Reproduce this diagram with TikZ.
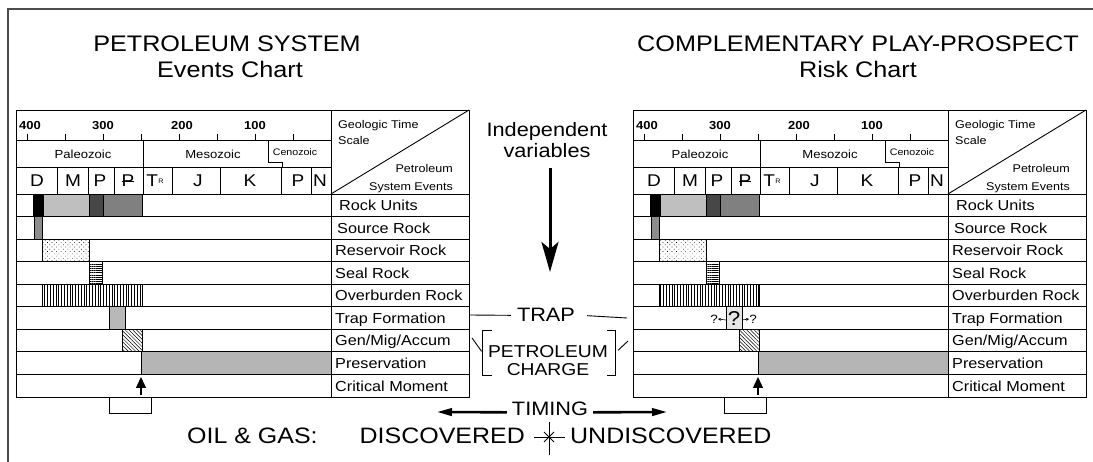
\documentclass[tikz,border=0pt]{standalone}
\usepackage{fontspec}
\setmainfont[FakeStretch=1.12]{Liberation Sans}
\usetikzlibrary{arrows.meta,patterns.meta}

\newcommand\fsz[1]{\fontsize{#1}{#1}\selectfont}
% Permian: P with a bar through it
\newcommand\permP{\ooalign{P\cr\hidewidth\rule[0.3em]{0.66em}{0.065em}\hidewidth\cr}}
% Triassic: T with a small R beside the stem
\newcommand\triasT{T\kern0.02em\raisebox{0.22em}{\fsz{6.5}R}}

\tikzset{
  grid/.style={line width=0.9pt},
  bar/.style={draw=black, line width=0.8pt},
  lbl/.style={anchor=base west, inner sep=0pt, font=\fsz{14.5}},
  eralbl/.style={anchor=base, inner sep=0pt, font=\fsz{11.7}},
  perlbl/.style={anchor=base, inner sep=0pt, font=\fsz{17}},
  numlbl/.style={anchor=base, inner sep=0pt, font=\bfseries\fsz{11.6}},
  hdrlbl/.style={inner sep=0pt, font=\fsz{11.2}},
  titlelbl/.style={anchor=base, inner sep=0pt, font=\fsz{22.5}},
  midlbl/.style={anchor=base, inner sep=0pt, font=\fsz{19.4}},
  botlbl/.style={inner sep=0pt, font=\fsz{22.3}},
  critarrow/.style={line width=1.4pt, -{Triangle[length=11pt,width=10pt]}},
  timearrow/.style={line width=2.6pt, -{Triangle[length=15pt,width=7.5pt]}},
  thinlink/.style={line width=0.9pt},
}

\begin{document}
\begin{tikzpicture}[x=1pt,y=-1pt]
\useasboundingbox (0,0) rectangle (1093,462);

% outer frame (left and top edges)
\draw[line width=1.6pt, black!70] (8,462) -- (8,9) -- (1093,9);

% titles
\node[titlelbl] (titleL1) at (227,52) {PETROLEUM SYSTEM};
\node[titlelbl] (titleL2) at (230,78) {Events Chart};
\node[titlelbl] (titleR1) at (858,52) {COMPLEMENTARY PLAY-PROSPECT};
\node[titlelbl] (titleR2) at (858,78) {Risk Chart};

% the two charts share one layout
\foreach \side/\dx/\bl in {L/0/109,R/617/107}{
\begin{scope}[xshift=\dx pt, name prefix=\side-]
  % rock units
  \filldraw[bar, fill=black] (33,194) rectangle (43,216.6);
  \filldraw[bar, fill=black!25] (43,194) rectangle (89,216.6);
  \filldraw[bar, fill=black!72] (89,194) rectangle (103,216.6);
  \filldraw[bar, fill=black!50] (103,194) rectangle (142,216.6);
  % source rock
  \filldraw[bar, fill=black!45] (34,216.6) rectangle (42,239.1);
  % reservoir rock
  \draw[bar, pattern={Dots[distance=3.2pt,angle=45,radius=0.45pt]}] (42,239.1) rectangle (89,261.7);
  % seal rock
  \draw[bar, pattern={Lines[distance=2.2pt,line width=0.6pt]}] (89,261.7) rectangle (102,284.2);
  % overburden rock
  \draw[bar, pattern={Lines[angle=90,distance=2.8pt,line width=0.7pt]}] (42,284.2) rectangle (142,306.8);
  % generation / migration / accumulation
  \draw[bar, pattern={Lines[angle=-45,distance=2.6pt,line width=0.5pt]}] (122,329.3) rectangle (142,351.9);
  % preservation
  \filldraw[bar, fill=black!29] (141,351.9) rectangle (331,374.4);

  % frame and grid
  \draw[grid] (16,110) rectangle (469,397);
  \draw[grid] (331,110) -- (331,397);
  \draw[grid] (16,140) -- (331,140);
  \draw[grid] (16,167) -- (331,167);
  \foreach \y in {194,216.6,239.1,261.7,284.2,306.8,329.3,351.9,374.4}
    \draw[grid] (16,\y) -- (469,\y);
  \draw[grid] (331,194) -- (469,110);

  % time scale
  \foreach \k in {0,...,7}
    \draw[grid] ({27+38*\k},134) -- ({27+38*\k},140);
  \node[numlbl] (n400) at (30,130) {400};
  \node[numlbl] (n300) at (103,130) {300};
  \node[numlbl] (n200) at (182,130) {200};
  \node[numlbl] (n100) at (255,130) {100};

  % eras
  \draw[grid] (143,140) -- (143,167);
  \draw[grid] (268,140) -- (268,162) -- (282,162) -- (282,167);
  \node[eralbl] (paleo) at (83,159) {Paleozoic};
  \node[eralbl] (meso) at (213,159) {Mesozoic};
  \node[eralbl, font=\fsz{9.5}] (ceno) at (295,156) {Cenozoic};

  % periods
  \foreach \x in {57,88,114,143,172,220,281,311}
    \draw[grid] (\x,167) -- (\x,194);
  \node[perlbl] (pD) at (37,187) {D};
  \node[perlbl] (pM) at (73,187) {M};
  \node[perlbl] (pP) at (100,187) {P};
  \node[perlbl] (pPP) at (128,187) {\permP};
  \node[perlbl] (pTr) at (155,187) {\triasT};
  \node[perlbl] (pJ) at (198,187) {J};
  \node[perlbl] (pK) at (250,187) {K};
  \node[perlbl] (pPg) at (298,187) {P};
  \node[perlbl] (pN) at (320,187) {N};

  % header corner
  \node[hdrlbl, anchor=base west] (geo1) at (338,129) {Geologic Time};
  \node[hdrlbl, anchor=base west] (geo2) at (338,145) {Scale};
  \node[hdrlbl, anchor=base east] (pet1) at (453,173) {Petroleum};
  \node[hdrlbl, anchor=base east] (pet2) at (453,191) {System Events};

  % event labels
  \node[lbl] (rock) at (339,211) {Rock Units};
  \node[lbl] (source) at (337,233.5) {Source Rock};
  \node[lbl] (reservoir) at (335,256) {Reservoir Rock};
  \node[lbl] (seal) at (335,278.5) {Seal Rock};
  \node[lbl] (overburden) at (335,301) {Overburden Rock};
  \node[lbl] (trapform) at (335,323.5) {Trap Formation};
  \node[lbl] (genmig) at (335,346) {Gen/Mig/Accum};
  \node[lbl] (preserv) at (335,369) {Preservation};
  \node[lbl] (critical) at (335,391.5) {Critical Moment};

  % critical moment and its bracket
  \coordinate (cmTail) at (141,395);
  \coordinate (cmTip) at (141,377);
  \draw[critarrow] (cmTail) -- (cmTip);
  \draw[grid] (\bl,398) -- (\bl,413) -- ({\bl+42},413) -- ({\bl+42},398);
\end{scope}
}

% trap formation bars
\filldraw[bar, fill=black!28] (109,306.8) rectangle (125,329.3);
\filldraw[bar, fill=black!10] (726,306.8) rectangle (742,329.3);
\node[inner sep=0pt, font=\fsz{20}] (qBig) at (734,318.5) {?};
\node[inner sep=0pt, font=\fsz{12}] (qLeft) at (714,319) {?};
\node[inner sep=0pt, font=\fsz{12}] (qRight) at (753,319) {?};
\coordinate (qBoxL) at (726,320);
\coordinate (qBoxR) at (742,320);
\draw[line width=0.6pt, -{Stealth[length=3pt,width=3pt]}] (qBoxL) -- (qLeft.east);
\draw[line width=0.6pt, -{Stealth[length=3pt,width=3pt]}] (qBoxR) -- (qRight.west);

% independent variables
\node[midlbl] (indep1) at (547,137) {Independent};
\node[midlbl] (indep2) at (547,158) {variables};
\coordinate (ivTail) at (550,168);
\coordinate (ivTip) at (550,272);
\draw[line width=3pt, -{Stealth[length=30pt,width=17pt,inset=7pt]}] (ivTail) -- (ivTip);

% trap
\node[midlbl, inner sep=6pt] (trap) at (546,322) {TRAP};
\coordinate (trapL) at (469,315);
\coordinate (trapR) at (627,318);
\draw[thinlink] (trapL) -- (trap.west);
\draw[thinlink, shorten <=6pt] (trap.east) -- (trapR);

% petroleum charge
\node[minimum width=132pt, minimum height=44pt, inner sep=0pt] (charge) at (549,353) {};
\node[anchor=base, inner sep=0pt, font=\fsz{17.2}] (charge1) at (548,358) {PETROLEUM};
\node[anchor=base, inner sep=0pt, font=\fsz{17.2}] (charge2) at (548,376) {CHARGE};
\draw[thinlink] ([xshift=9pt]charge.north west) -- (charge.north west) -- (charge.south west) -- ([xshift=9pt]charge.south west);
\draw[thinlink] ([xshift=-8pt]charge.north east) -- (charge.north east) -- (charge.south east) -- ([xshift=-8pt]charge.south east);
\coordinate (chargeL) at (472,338);
\coordinate (chargeR) at (628,341);
\draw[thinlink, shorten >=2pt] (chargeL) -- (charge.west);
\draw[thinlink, shorten <=4pt] (charge.east) -- (chargeR);

% timing
\node[midlbl, inner sep=5pt] (timing) at (550,416) {TIMING};
\coordinate (timeL) at (437,412);
\coordinate (timeR) at (667,412);
\draw[timearrow] ([yshift=-3pt]timing.west) -- (timeL);
\draw[timearrow] ([yshift=-3pt]timing.east) -- (timeR);

% oil and gas line
\node[botlbl, anchor=base west] (oilgas) at (187,443) {OIL \& GAS:};
\node[botlbl, anchor=base east] (disc) at (525,443) {DISCOVERED};
\node[botlbl, anchor=base west] (undisc) at (570,443) {UNDISCOVERED};
\draw[thinlink] (534,437) -- (565,437);
\draw[thinlink] (549,422) -- (549,455);
\draw[thinlink] (544,432) -- (554,442);
\draw[thinlink] (544,442) -- (554,432);
\end{tikzpicture}
\end{document}
